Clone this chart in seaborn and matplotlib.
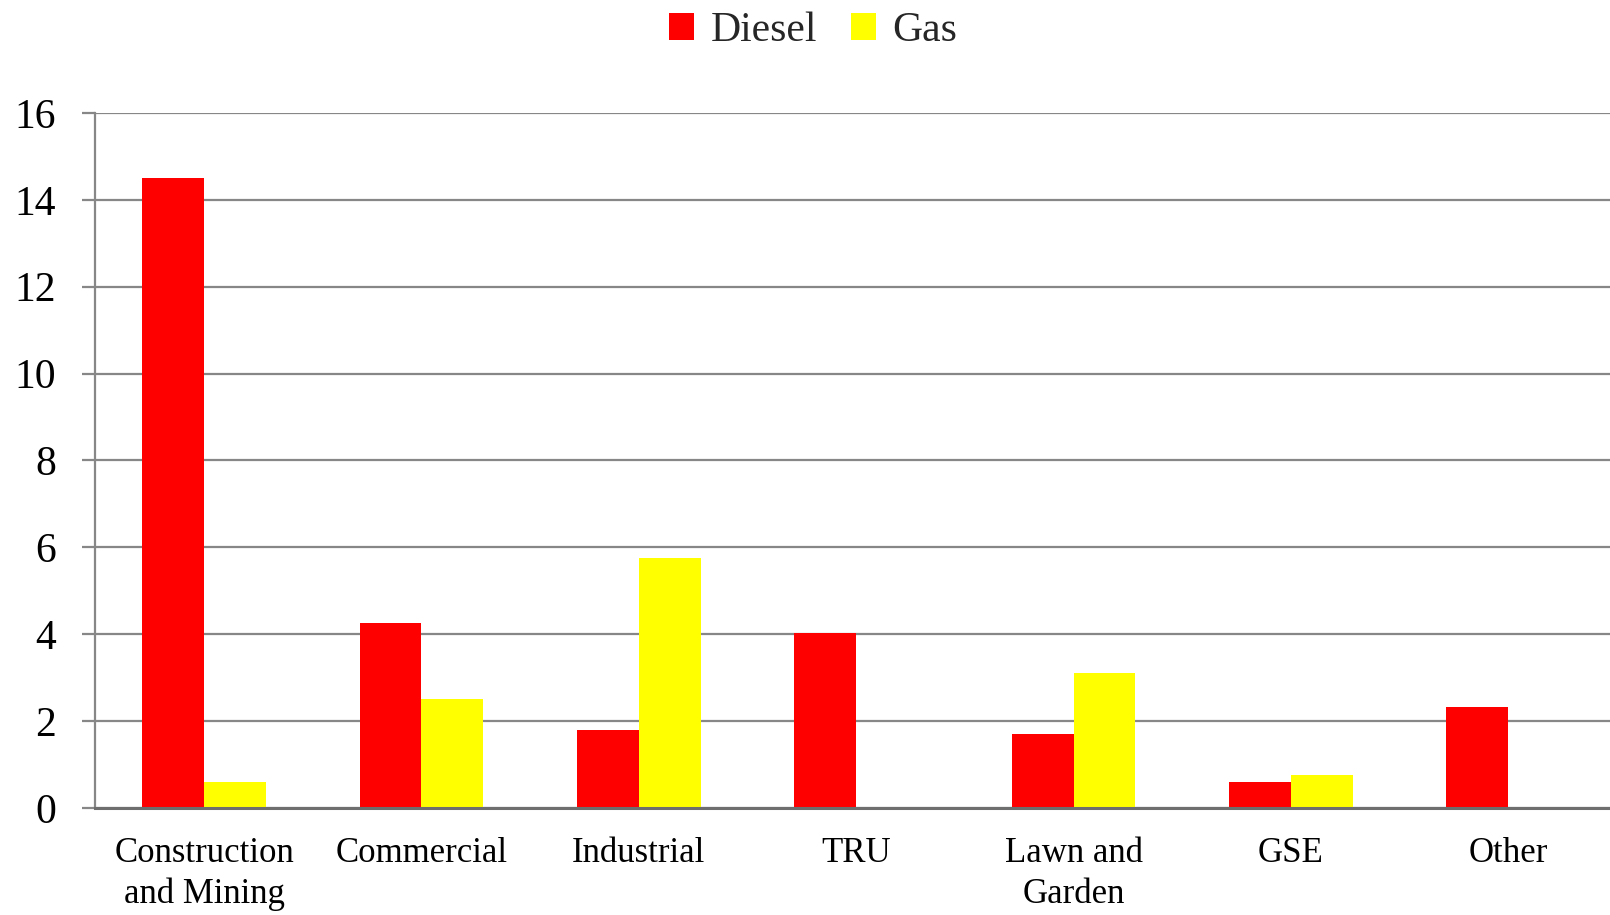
import matplotlib
matplotlib.use("Agg")
import matplotlib.pyplot as plt
import seaborn as sns
import pandas as pd
from matplotlib.patches import Patch

categories = ["Construction\nand Mining", "Commercial", "Industrial", "TRU",
              "Lawn and\nGarden", "GSE", "Other"]
diesel = [14.5, 4.25, 1.8, 4.02, 1.7, 0.6, 2.32]
gas = [0.6, 2.5, 5.75, 0.0, 3.1, 0.75, 0.0]
series = ["Diesel", "Gas"]
colors = {"Diesel": "#ff0000", "Gas": "#ffff00"}
yticks = [0, 2, 4, 6, 8, 10, 12, 14, 16]

df = pd.DataFrame({
    "category": categories * 2,
    "fuel": ["Diesel"] * len(categories) + ["Gas"] * len(categories),
    "value": diesel + gas,
})

sns.set_theme(style="white")
plt.rcParams["font.family"] = ["Liberation Serif", "DejaVu Serif"]

fig = plt.figure(figsize=(16.1, 9.15), dpi=100)
ax = fig.add_axes([0.0593, 0.117, 0.945, 0.7595])

sns.barplot(data=df, x="category", y="value", hue="fuel", order=categories,
            hue_order=series, palette=colors, width=0.57, linewidth=0,
            saturation=1, ax=ax, legend=False)

ax.set_ylim(0, 16)
ax.set_xlim(-0.5, len(categories) - 0.5)
ax.set_yticks(yticks)
ax.set_yticklabels([str(v) for v in yticks])
ax.set_xlabel("")
ax.set_ylabel("")
ax.yaxis.grid(True, color="#878787", linewidth=1.6)
ax.set_axisbelow(True)
for s in ["top", "right"]:
    ax.spines[s].set_visible(False)
ax.spines["left"].set_color("#878787")
ax.spines["left"].set_linewidth(1.6)
ax.spines["bottom"].set_color("#6e6e6e")
ax.spines["bottom"].set_linewidth(2.2)
ax.tick_params(axis="y", which="both", left=True, length=9.5, width=1.6,
               color="#878787", pad=19, labelsize=30, labelcolor="black")
ax.tick_params(axis="x", bottom=False, pad=15, labelsize=25, labelcolor="black")
for lab in ax.get_xticklabels():
    lab.set_linespacing(1.3)
    lab.set_va("top")

handles = [Patch(facecolor=colors[s], edgecolor="none") for s in series]
fig.legend(handles, series, loc="upper center", bbox_to_anchor=(0.505, 1.028),
           ncol=2, frameon=False, fontsize=30, handlelength=0.6,
           handleheight=0.6, handletextpad=0.4, columnspacing=0.8)

fig.savefig("out.png", dpi=100)
